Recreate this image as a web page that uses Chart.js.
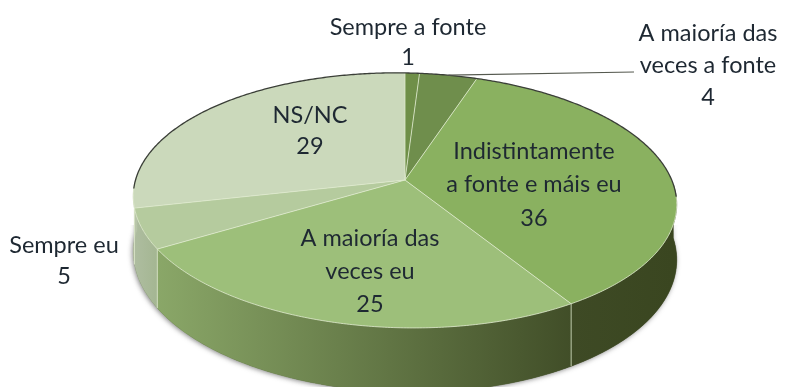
<!DOCTYPE html>
<html>
<head>
<meta charset="utf-8">
<script src="https://cdn.jsdelivr.net/npm/chart.js@4/dist/chart.umd.min.js"></script>
<style>
  html, body { margin: 0; padding: 0; background: #fff; }
  #wrap { position: relative; width: 785px; height: 387px; overflow: hidden; }
  canvas { display: block; filter: blur(0.5px); }
</style>
</head>
<body>
<div id="wrap"><canvas id="pie" width="785" height="387"></canvas></div>
<script>
// Data
const categories = ["Sempre a fonte", "A maioría das veces a fonte", "Indistintamente a fonte e máis eu", "A maioría das veces eu", "Sempre eu", "NS/NC"]
const values = [1, 4, 36, 25, 5, 29]

// Label text, split as in the picture (value goes on the last line)
const labelLines = [
  ["Sempre a fonte"],
  ["A maioría das", "veces a fonte"],
  ["Indistintamente", "a fonte e máis eu"],
  ["A maioría das", "veces eu"],
  ["Sempre eu"],
  ["NS/NC"],
]

// Styles
const topColors = ["#6f8f48", "#6f8e4c", "#8ab160", "#9dbf7a", "#b5cb9e", "#cbd9bb"]
const wallColors = [
  ["#5d7038", "#5d7038"],
  ["#5d7038", "#5d7038"],
  ["#3e4a25", "#3a4620"],
  ["#8aa768", "#414e28"],
  ["#aebda0", "#a4b692"],
  ["#b9c6aa", "#b9c6aa"],
]
const labelCenters = [[408, 27], [708, 33], [534, 151], [370, 238], [64, 245], [310, 115]]
const lineHeights = [30, 32, 33.5, 33, 31, 31]

// Perspective of the pie plane
const persp = 0.16
const xScale = 1.49
const yScale = 0.69
const tilt = 0.015
const wallDepth = 54

function project(el, angle) {
  const u = Math.cos(angle)
  const v = Math.sin(angle)
  const w = 1 - persp * v
  const dx = (el.outerRadius * xScale * u) / w
  return {
    x: el.x + dx,
    y: el.y + (el.outerRadius * yScale * v) / w + tilt * dx,
    w: w,
  }
}

function rimPath(ctx, el, from, to, drop, first) {
  const steps = Math.max(2, Math.ceil(Math.abs(to - from) / 0.01))
  for (let i = 0; i <= steps; i++) {
    const p = project(el, from + ((to - from) * i) / steps)
    const y = p.y + (drop ? wallDepth / p.w : 0)
    if (i === 0 && first) ctx.moveTo(p.x, y)
    else ctx.lineTo(p.x, y)
  }
}

function drawWall(ctx, el, index) {
  // only the part of the slice facing the viewer
  const from = Math.max(el.startAngle, 0)
  const to = Math.min(el.endAngle, Math.PI)
  if (to <= from) return
  const a = project(el, from)
  const b = project(el, to)
  const grad = ctx.createLinearGradient(a.x, 0, b.x, 0)
  grad.addColorStop(0, wallColors[index][1])
  grad.addColorStop(1, wallColors[index][0])
  ctx.beginPath()
  rimPath(ctx, el, from, to, false, true)
  rimPath(ctx, el, to, from, true, false)
  ctx.closePath()
  ctx.fillStyle = grad
  ctx.fill()
  ctx.strokeStyle = grad
  ctx.lineWidth = 0.6
  ctx.stroke()
}

const pie3d = {
  id: "pie3d",
  beforeDatasetDraw(chart) {
    const ctx = chart.ctx
    const arcs = chart.getDatasetMeta(0).data
    const first = arcs[0]
    ctx.save()

    // soft shadow below the wall, kept off the upper part of the pie
    ctx.save()
    ctx.beginPath()
    ctx.rect(0, 225, chart.width, chart.height - 225)
    ctx.clip()
    ctx.shadowColor = "rgba(50,50,50,0.6)"
    ctx.shadowBlur = 5
    ctx.shadowOffsetX = -1
    ctx.shadowOffsetY = 1
    ctx.fillStyle = "#4a5530"
    ctx.beginPath()
    rimPath(ctx, first, 0, Math.PI, true, true)
    rimPath(ctx, first, Math.PI, 0, false, false)
    ctx.closePath()
    ctx.fill()
    ctx.restore()

    arcs.forEach((el, i) => drawWall(ctx, el, i))

    // tops of the slices
    arcs.forEach((el, i) => {
      ctx.beginPath()
      ctx.moveTo(el.x, el.y)
      rimPath(ctx, el, el.startAngle, el.endAngle, false, false)
      ctx.closePath()
      ctx.fillStyle = topColors[i]
      ctx.fill()
    })

    // light seams between slices and along the front rim
    ctx.strokeStyle = "rgba(222,234,205,0.8)"
    ctx.lineWidth = 1
    arcs.forEach((el) => {
      const p = project(el, el.startAngle)
      ctx.beginPath()
      ctx.moveTo(el.x, el.y)
      ctx.lineTo(p.x, p.y)
      ctx.stroke()
      if (Math.sin(el.startAngle) > 0.2) {
        ctx.beginPath()
        ctx.moveTo(p.x, p.y)
        ctx.lineTo(p.x, p.y + wallDepth / p.w)
        ctx.stroke()
      }
    })
    ctx.beginPath()
    rimPath(ctx, first, 0.1, Math.PI - 0.05, false, true)
    ctx.stroke()

    // dark outline round the back of the pie
    ctx.strokeStyle = "#3b3f38"
    ctx.lineWidth = 1.3
    ctx.beginPath()
    rimPath(ctx, first, Math.PI - 0.1, 2 * Math.PI + 0.1, false, true)
    ctx.stroke()

    ctx.restore()
    return false
  },
  afterDatasetsDraw(chart) {
    const ctx = chart.ctx
    ctx.save()

    // leader line for the small slice
    const el = chart.getDatasetMeta(0).data[1]
    const mid = project(el, (el.startAngle + el.endAngle) / 2)
    ctx.strokeStyle = "#55594f"
    ctx.lineWidth = 1.2
    ctx.beginPath()
    ctx.moveTo(mid.x, mid.y)
    ctx.lineTo(634, 72)
    ctx.stroke()

    ctx.font = '23.5px Lato, "Open Sans", sans-serif'
    ctx.fillStyle = "#1e2832"
    ctx.textAlign = "center"
    ctx.textBaseline = "middle"
    labelLines.forEach((lines, i) => {
      const [x, y] = labelCenters[i]
      lines.concat(String(values[i])).forEach((line, n) => {
        ctx.fillText(line, x, y + n * lineHeights[i])
      })
    })
    ctx.restore()
  },
}

new Chart(document.getElementById("pie"), {
  type: "pie",
  data: {
    labels: categories,
    datasets: [{ data: values, backgroundColor: topColors, borderWidth: 0 }],
  },
  options: {
    responsive: false,
    animation: false,
    layout: { padding: { left: 25, bottom: 27 } },
    plugins: { legend: { display: false }, tooltip: { enabled: false } },
  },
  plugins: [pie3d],
})
</script>
</body>
</html>
